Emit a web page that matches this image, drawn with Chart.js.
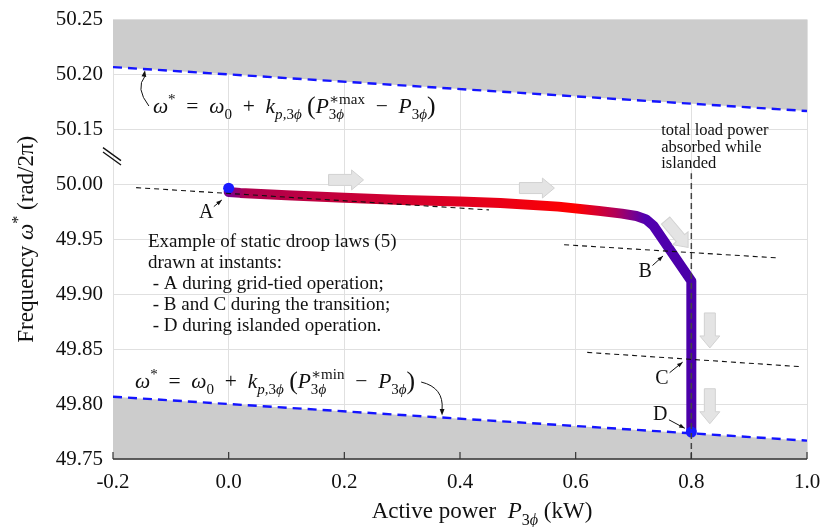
<!DOCTYPE html>
<html>
<head>
<meta charset="UTF-8">
<title>Static droop laws</title>
<style>body{margin:0;background:#fff}</style>
</head>
<body>
<canvas id="myChart" width="820" height="527"></canvas>
<script src="https://cdn.jsdelivr.net/npm/chart.js@4.4.0/dist/chart.umd.min.js"></script>
<script>
// ---- data (frequency in rad/2pi, power in kW) ----
const yTickLabels = ['49.75','49.80','49.85','49.90','49.95','50.00','50.15','50.20','50.25'];
const limitP = [-0.2, 1.0];
const upperF = [50.2067, 50.1667];   // w0 + k (Pmax - P)
const lowerF = [49.8067, 49.7667];   // w0 + k (Pmin - P)
const curveP = [0, 0.02, 0.1, 0.2, 0.3, 0.4, 0.47, 0.57, 0.64, 0.68, 0.705, 0.722, 0.735, 0.8, 0.8];
const curveF = [49.993, 49.9922, 49.990, 49.9878, 49.9857, 49.9843, 49.983, 49.9797, 49.9758, 49.9733, 49.9712, 49.968, 49.962, 49.912, 49.7755];
const droopAP = [-0.16, 0.45], droopAF = [49.997, 49.9767];
const droopBP = [0.58, 0.95],  droopBF = [49.945, 49.933];
const droopCP = [0.62, 0.99],  droopCF = [49.847, 49.834];
const islandP = [0.8, 0.8],    islandF = [49.75, 50.03];
const dotP = [0, 0.8],         dotF = [49.9965, 49.7745];

// colour along the trajectory
const gradP = [0, 0.03, 0.3, 0.5, 0.6, 0.67, 0.72, 0.8];
const gradC = ['#7a0090', '#b0004e', '#d2002e', '#ee0012', '#ff0000', '#b0005a', '#5200b0', '#4a00a8'];

// broken y axis: 49.75..50.00 and 50.15..50.25 in 0.05 steps, one step for the gap
function toDisp(f) {
  if (f <= 50.0) return (f - 49.75) / 0.05;
  if (f < 50.15) return 5 + (f - 50.0) / 0.15;
  return 6 + (f - 50.15) / 0.05;
}
function pts(P, F) { return P.map((p, i) => ({x: p, y: toDisp(F[i])})); }

const SERIF = '"Liberation Serif", "DejaVu Serif", serif';
const fnt = (sz, it) => (it ? 'italic ' : '') + sz + 'px ' + SERIF;

let grad = null;
function curveColor(c) {
  const chart = c.chart;
  if (!chart.chartArea || !chart.scales.x) return '#d00020';
  if (!grad) {
    const xs = chart.scales.x;
    grad = chart.ctx.createLinearGradient(xs.getPixelForValue(-0.2), 0, xs.getPixelForValue(1.0), 0);
    gradP.forEach((p, i) => grad.addColorStop((p + 0.2) / 1.2, gradC[i]));
  }
  return grad;
}

// rich text runs (math-ish)
const R = t => ({t: t});
const I = t => ({t: t, i: true});
const P = (t) => ({t: t, s: 1.2, dy: 0.06});
const sub = (t, it) => ({t: t, i: it, s: 0.7, dy: 0.3});
const sup = (t, it, noadv) => ({t: t, i: it, s: 0.7, dy: -0.42, noadv: noadv});
const SYNC = {sync: true};
const SP = '\u2002';

function drawRuns(ctx, runs, x, y, size, align) {
  let w = 0, markEnd = 0;
  const lay = [];
  for (const r of runs) {
    if (r.sync) { w = Math.max(w, markEnd); continue; }
    const sz = size * (r.s || 1);
    ctx.font = fnt(sz, r.i);
    const tw = ctx.measureText(r.t).width;
    lay.push({r: r, x: w, sz: sz});
    if (r.noadv) { markEnd = w + tw; } else { w += tw; }
  }
  let x0 = x;
  if (align === 'center') x0 = x - w / 2;
  ctx.save();
  ctx.fillStyle = '#111';
  ctx.textBaseline = 'alphabetic';
  ctx.textAlign = 'left';
  for (const l of lay) {
    ctx.font = fnt(l.sz, l.r.i);
    ctx.fillText(l.r.t, x0 + l.x, y + (l.r.dy || 0) * size);
  }
  ctx.restore();
  return w;
}

function formula(lim) {
  return [I('ω'), sup('*'), R(SP + '=' + SP), I('ω'), sub('0'), R(SP + '+' + SP), I('k'), sub('p,', true), sub('3'), sub('ϕ', true),
    R(' '), P('('), I('P'), sup('∗' + lim, false, true), sub('3'), sub('ϕ', true), SYNC, R(SP + '−' + SP), I('P'), sub('3'), sub('ϕ', true), P(')')];
}
const exampleLines = ['Example of static droop laws (5)', 'drawn at instants:', ' - A during grid-tied operation;',
  ' - B and C during the transition;', ' - D during islanded operation.'];
const islandLines = ['total load power', 'absorbed while', 'islanded'];

// point labels: text position and the point it refers to
const labels = [
  {t: 'A', p: -0.039, f: 49.9739, tp: -0.0098, tf: 49.9866},
  {t: 'B', p: 0.72,   f: 49.920,  tp: 0.753,   tf: 49.9357},
  {t: 'C', p: 0.749,  f: 49.8228, tp: 0.787,   tf: 49.839},
  {t: 'D', p: 0.746,  f: 49.790,  tp: 0.791,   tf: 49.7773}
];
// grey motion arrows: centre and heading (deg)
const moves = [
  {p: 0.203, f: 50.012, a: 0}, {p: 0.533, f: 49.9966, a: 0}, {p: 0.775, f: 49.9548, a: 50},
  {p: 0.832, f: 49.867, a: 90}, {p: 0.832, f: 49.798, a: 90}
];

function arrowHead(ctx, x1, y1, x2, y2, L) {
  const a = Math.atan2(y2 - y1, x2 - x1);
  ctx.beginPath();
  ctx.moveTo(x2, y2);
  ctx.lineTo(x2 - L * Math.cos(a - 0.35), y2 - L * Math.sin(a - 0.35));
  ctx.lineTo(x2 - L * Math.cos(a + 0.35), y2 - L * Math.sin(a + 0.35));
  ctx.closePath();
  ctx.fill();
}

function blockArrow(ctx, cx, cy, deg) {
  const len = 35, sw = 11, hw = 20, hl = 12;
  ctx.save();
  ctx.translate(cx, cy);
  ctx.rotate(deg * Math.PI / 180);
  ctx.beginPath();
  ctx.moveTo(-len / 2, -sw / 2);
  ctx.lineTo(len / 2 - hl, -sw / 2);
  ctx.lineTo(len / 2 - hl, -hw / 2);
  ctx.lineTo(len / 2, 0);
  ctx.lineTo(len / 2 - hl, hw / 2);
  ctx.lineTo(len / 2 - hl, sw / 2);
  ctx.lineTo(-len / 2, sw / 2);
  ctx.closePath();
  ctx.fillStyle = '#e4e4e4';
  ctx.fill();
  ctx.strokeStyle = '#d2d2d2';
  ctx.lineWidth = 1;
  ctx.stroke();
  ctx.restore();
}

const decor = {
  id: 'decor',
  afterDatasetsDraw(chart) {
    const ctx = chart.ctx, xs = chart.scales.x, ys = chart.scales.y;
    const X = p => xs.getPixelForValue(p), Y = f => ys.getPixelForValue(toDisp(f));
    // motion arrows
    moves.forEach(m => blockArrow(ctx, X(m.p), Y(m.f), m.a));
    // formulas
    const f1x = X(-0.131), f1y = Y(50.1649);
    drawRuns(ctx, formula('max'), f1x, f1y, 21.5);
    const f2x = X(-0.162), f2y = Y(49.8146);
    const w2 = drawRuns(ctx, formula('min'), f2x, f2y, 21.5);
    ctx.save();
    ctx.strokeStyle = '#111'; ctx.fillStyle = '#111'; ctx.lineWidth = 1;
    // curved pointer to upper limit
    let tx = X(-0.1447), ty = Y(50.2057) + 2;
    ctx.beginPath(); ctx.moveTo(f1x - 4, f1y - 7); ctx.quadraticCurveTo(tx - 10, ty + 18, tx, ty + 6); ctx.stroke();
    arrowHead(ctx, tx - 2, ty + 12, tx, ty, 7);
    // curved pointer to lower limit
    tx = X(0.369); ty = Y(49.7877) - 2;
    ctx.beginPath(); ctx.moveTo(f2x + w2 + 6, f2y - 6); ctx.quadraticCurveTo(tx + 2, ty - 28, tx, ty - 6); ctx.stroke();
    arrowHead(ctx, tx, ty - 12, tx, ty, 7);
    // point labels
    ctx.font = fnt(20);
    ctx.textAlign = 'center'; ctx.textBaseline = 'middle';
    labels.forEach(l => {
      const lx = X(l.p), ly = Y(l.f), px = X(l.tp), py = Y(l.tf);
      ctx.fillText(l.t, lx, ly);
      const d = Math.hypot(px - lx, py - ly), ux = (px - lx) / d, uy = (py - ly) / d;
      const sx = lx + ux * 10, sy = ly + uy * 10, ex = px - ux * 1.5, ey = py - uy * 1.5;
      ctx.beginPath(); ctx.moveTo(sx, sy); ctx.lineTo(ex, ey); ctx.stroke();
      arrowHead(ctx, sx, sy, ex, ey, 6);
    });
    // notes
    ctx.textAlign = 'left'; ctx.textBaseline = 'alphabetic';
    ctx.font = fnt(19);
    exampleLines.forEach((s, i) => ctx.fillText(s, X(-0.1395), Y(49.943) + i * 21));
    ctx.font = fnt(16.5);
    islandLines.forEach((s, i) => ctx.fillText(s, X(0.748), Y(50.1346) + i * 16.5));
    ctx.restore();
  },
  afterDraw(chart) {
    const ctx = chart.ctx, xs = chart.scales.x, ys = chart.scales.y, a = chart.chartArea;
    ctx.save();
    // bottom axis with inward ticks
    ctx.strokeStyle = '#333'; ctx.lineWidth = 1.5;
    ctx.beginPath(); ctx.moveTo(a.left, a.bottom); ctx.lineTo(a.right, a.bottom); ctx.stroke();
    ctx.lineWidth = 1.2;
    xs.ticks.forEach(t => {
      const px = xs.getPixelForValue(t.value);
      ctx.beginPath(); ctx.moveTo(px, a.bottom); ctx.lineTo(px, a.bottom - 7); ctx.stroke();
    });
    // axis break mark
    const by = ys.getPixelForValue(toDisp(50.075));
    ctx.strokeStyle = '#111'; ctx.lineWidth = 1.3;
    [-2.2, 2.2].forEach(o => {
      ctx.beginPath(); ctx.moveTo(a.left - 10, by - 7 + o); ctx.lineTo(a.left + 8, by + 6 + o); ctx.stroke();
    });
    // axis titles
    drawRuns(ctx, [R('Active power  '), I('P'), sub('3'), sub('ϕ', true), R(' (kW)')], 482, 518, 23, 'center');
    ctx.translate(33, (a.top + a.bottom) / 2);
    ctx.rotate(-Math.PI / 2);
    drawRuns(ctx, [R('Frequency '), I('ω'), sup('*'), R(' (rad/2π)')], 0, 0, 23, 'center');
    ctx.restore();
  }
};

const lineDs = (data, color, width, dash, order) => ({
  data: data, borderColor: color, borderWidth: width, borderDash: dash, pointRadius: 0,
  fill: false, tension: 0, order: order
});

const ds = [
  lineDs(pts(islandP, islandF), '#444', 1.5, [6, 4], 0),
  lineDs(pts(droopAP, droopAF), '#111', 1.1, [5, 4], 0),
  lineDs(pts(droopBP, droopBF), '#111', 1.1, [5, 4], 0),
  lineDs(pts(droopCP, droopCF), '#111', 1.1, [5, 4], 0),
  {data: pts(dotP, dotF), showLine: false, pointRadius: 5.5, pointBackgroundColor: '#1a1aff',
    pointBorderWidth: 0, order: 1},
  {data: pts(curveP, curveF), borderColor: curveColor, borderWidth: 10, pointRadius: 0, tension: 0,
    borderCapStyle: 'round', borderJoinStyle: 'round', fill: false, order: 2},
  Object.assign(lineDs(pts(limitP, upperF), '#1414ff', 2.4, [9, 6], 3), {fill: 'end', backgroundColor: '#cccccc'}),
  Object.assign(lineDs(pts(limitP, lowerF), '#1414ff', 2.4, [9, 6], 3), {fill: 'start', backgroundColor: '#cccccc'})
];

new Chart(document.getElementById('myChart'), {
  type: 'line',
  data: {datasets: ds},
  options: {
    responsive: false,
    animation: false,
    events: [],
    layout: {padding: {top: 19.5, right: 13, left: 0, bottom: 0}},
    plugins: {legend: {display: false}, tooltip: {enabled: false}},
    scales: {
      x: {
        type: 'linear', min: -0.2, max: 1.0,
        ticks: {stepSize: 0.2, padding: 11, color: '#111', font: {family: SERIF, size: 21},
          callback: v => (Math.abs(v) < 1e-9 ? 0 : v).toFixed(1)},
        grid: {color: '#e0e0e0', drawTicks: false},
        border: {display: false},
        afterFit: s => { s.height = 68; s.paddingLeft = 0; s.paddingRight = 0; }
      },
      y: {
        type: 'linear', min: 0, max: 8,
        ticks: {stepSize: 1, padding: 10, color: '#111', font: {family: SERIF, size: 21},
          callback: v => yTickLabels[v]},
        grid: {color: '#e0e0e0', drawTicks: false},
        border: {display: false},
        afterFit: s => { s.width = 113; s.paddingTop = 0; s.paddingBottom = 0; }
      }
    }
  },
  plugins: [decor]
});
</script>
</body>
</html>
